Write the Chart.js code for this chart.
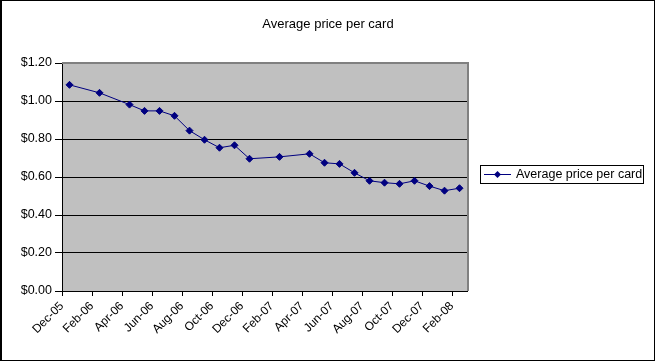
<!DOCTYPE html>
<html>
<head>
<meta charset="utf-8">
<script src="https://cdn.jsdelivr.net/npm/chart.js@4.4.1/dist/chart.umd.min.js"></script>
<style>
html,body{margin:0;padding:0;background:#fff;}
#wrap{width:656px;height:362px;position:relative;}
canvas{display:block;}
</style>
</head>
<body>
<div id="wrap"><canvas id="c" width="656" height="362"></canvas></div>
<script>
// Every month on the axis (one slot per month)
const months = ["Dec-05","Jan-06","Feb-06","Mar-06","Apr-06","May-06","Jun-06","Jul-06","Aug-06","Sep-06","Oct-06","Nov-06","Dec-06",
                "Jan-07","Feb-07","Mar-07","Apr-07","May-07","Jun-07","Jul-07","Aug-07","Sep-07","Oct-07","Nov-07","Dec-07",
                "Jan-08","Feb-08"];
// Average price per card for each month (null = no observation)
const prices = [1.085,null,1.043,null,0.981,0.948,0.948,0.922,0.844,0.796,0.754,0.767,0.696,
                null,0.706,null,0.722,0.675,0.669,0.622,0.580,0.570,0.564,0.580,0.552,
                0.528,0.541];
// Tick labels shown on the x axis (every second month)
const tickLabels = ["Dec-05","Feb-06","Apr-06","Jun-06","Aug-06","Oct-06","Dec-06","Feb-07","Apr-07","Jun-07","Aug-07","Oct-07","Dec-07","Feb-08"];
const yTicks = [0,0.2,0.4,0.6,0.8,1.0,1.2];
const seriesName = "Average price per card";
const titleText = "Average price per card";

const FONT = "'Liberation Sans', Arial, sans-serif";
const NAVY = "#000080";

const points = [];
prices.forEach((v,i)=>{ if(v!==null) points.push({x:i+0.5,y:v}); });

const deco = {
  id:'deco',
  beforeDraw(chart){
    const {ctx, chartArea:a} = chart;
    ctx.save();
    ctx.fillStyle='#fff';
    ctx.fillRect(0,0,chart.width,chart.height);
    ctx.fillStyle='#C0C0C0';
    ctx.fillRect(a.left,a.top,a.right-a.left,a.bottom-a.top);
    ctx.restore();
  },
  afterDraw(chart){
    const {ctx, chartArea:a} = chart;
    ctx.save();
    // plot border (top / right) grey
    ctx.strokeStyle='#808080';
    ctx.lineWidth=2;
    ctx.beginPath();
    ctx.moveTo(a.left, a.top);
    ctx.lineTo(a.right+1, a.top);
    ctx.lineTo(a.right+1, a.bottom);
    ctx.stroke();
    // outer border
    ctx.strokeStyle='#000';
    ctx.lineWidth=1;
    ctx.strokeRect(0.5,0.5,654,360);
    ctx.fillStyle='#000';
    ctx.fillRect(0,0,2,361);
    // title
    ctx.font='13px '+FONT;
    ctx.fillStyle='#000';
    ctx.textAlign='center';
    ctx.textBaseline='middle';
    ctx.fillText(titleText, 328, 24);
    // legend
    ctx.lineWidth=1;
    ctx.strokeStyle='#000';
    ctx.strokeRect(480.5,165.5,163,18);
    ctx.strokeStyle=NAVY;
    ctx.beginPath();
    ctx.moveTo(484,174.5);
    ctx.lineTo(511,174.5);
    ctx.stroke();
    ctx.fillStyle=NAVY;
    ctx.beginPath();
    const cx=497.5, cy=174.5, r=3.5;
    ctx.moveTo(cx,cy-r);ctx.lineTo(cx+r,cy);ctx.lineTo(cx,cy+r);ctx.lineTo(cx-r,cy);ctx.closePath();
    ctx.fill();
    ctx.fillStyle='#000';
    ctx.textAlign='left';
    ctx.font='12.5px '+FONT;
    ctx.fillText(seriesName, 516, 175);
    ctx.restore();
  }
};

new Chart(document.getElementById('c'), {
  type:'line',
  data:{
    datasets:[{
      label:seriesName,
      data:points,
      borderColor:NAVY,
      backgroundColor:NAVY,
      borderWidth:1,
      pointStyle:'rectRot',
      pointRadius:3.5,
      pointBackgroundColor:NAVY,
      pointBorderColor:NAVY,
      pointBorderWidth:1,
      tension:0,
      spanGaps:true
    }]
  },
  options:{
    responsive:false,
    animation:false,
    events:[],
    layout:{padding:{left:0,top:63,right:189,bottom:0}},
    plugins:{legend:{display:false},title:{display:false},tooltip:{enabled:false}},
    scales:{
      x:{
        type:'linear',
        min:0,max:months.length,
        afterBuildTicks(axis){
          axis.ticks = tickLabels.map(l=>({value:months.indexOf(l)}));
        },
        afterFit(scale){ scale.height = 71; },
        grid:{drawOnChartArea:false,drawTicks:true,tickLength:5,tickColor:'#000',color:'#000'},
        border:{color:'#000',width:1},
        ticks:{
          autoSkip:false,minRotation:45,maxRotation:45,padding:3,
          color:'#000',font:{family:FONT,size:12},
          callback:(v)=>months[v] ?? ''
        }
      },
      y:{
        min:0,max:1.2,
        afterBuildTicks(axis){ axis.ticks = yTicks.map(v=>({value:v})); },
        afterFit(scale){ scale.width = 62; },
        grid:{
          color:(c)=> (c.tick && Math.abs(c.tick.value-1.2)<1e-6) ? '#808080' : '#000',
          tickColor:'#000',tickLength:7,drawTicks:true,lineWidth:1
        },
        border:{color:'#000',width:1},
        ticks:{
          padding:3,color:'#000',font:{family:FONT,size:12.5},
          callback:(v)=>'$'+Number(v).toFixed(2)
        }
      }
    }
  },
  plugins:[deco]
});
</script>
</body>
</html>
